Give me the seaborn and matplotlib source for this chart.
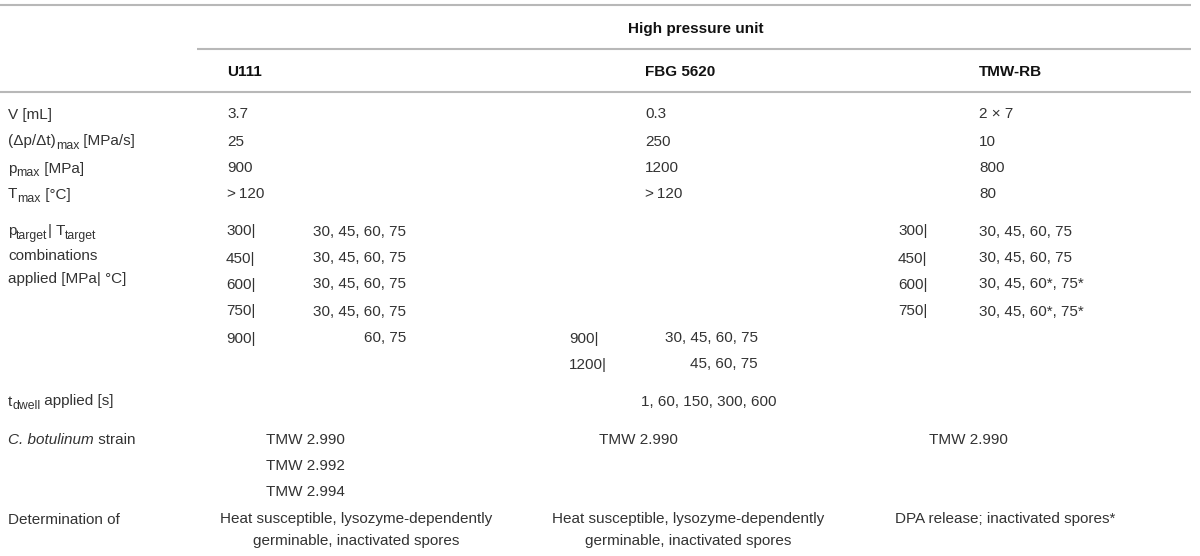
import matplotlib
matplotlib.use("Agg")
import matplotlib.pyplot as plt
import seaborn as sns

# table content
units = ["U111", "FBG 5620", "TMW-RB"]
volume = ["3.7", "0.3", "2 × 7"]
rate_max = ["25", "250", "10"]
p_max = ["900", "1200", "800"]
t_max = [">\u2009120", ">\u2009120", "80"]

u111_pressures = ["300|", "450|", "600|", "750|", "900|"]
u111_temps = ["30, 45, 60, 75", "30, 45, 60, 75", "30, 45, 60, 75", "30, 45, 60, 75", "60, 75"]
fbg_pressures = ["900|", "1200|"]
fbg_temps = ["30, 45, 60, 75", "45, 60, 75"]
tmw_pressures = ["300|", "450|", "600|", "750|"]
tmw_temps = ["30, 45, 60, 75", "30, 45, 60, 75", "30, 45, 60*, 75*", "30, 45, 60*, 75*"]

dwell_times = "1, 60, 150, 300, 600"
strains = [["TMW 2.990", "TMW 2.992", "TMW 2.994"], ["TMW 2.990"], ["TMW 2.990"]]
determination = [
    ["Heat susceptible, lysozyme-dependently", "germinable, inactivated spores"],
    ["Heat susceptible, lysozyme-dependently", "germinable, inactivated spores"],
    ["DPA release; inactivated spores*"],
]

# row labels as (text, style) runs: n = normal, s = subscript, i = italic
row_labels = [
    [("V [mL]", "n")],
    [("(Δp/Δt)", "n"), ("max", "s"), (" [MPa/s]", "n")],
    [("p", "n"), ("max", "s"), (" [MPa]", "n")],
    [("T", "n"), ("max", "s"), (" [°C]", "n")],
]
combo_label = [
    [("p", "n"), ("target", "s"), ("| T", "n"), ("target", "s")],
    [("combinations", "n")],
    [("applied [MPa| °C]", "n")],
]
dwell_label = [("t", "n"), ("dwell", "s"), (" applied [s]", "n")]
strain_label = [("C. botulinum", "i"), (" strain", "n")]

sns.set_theme(style="white")
plt.rcParams["font.family"] = ["Liberation Sans", "DejaVu Sans"]

TXT = "#333333"
HEAD = "#111111"
RULE = "#b8b8b8"
FS = 11
BASE = 5.5

fig = plt.figure(figsize=(12, 5.56), dpi=100)
ax = fig.add_axes([0, 0, 1, 1])
ax.set_xlim(0, 1200)
ax.set_ylim(556, 0)
ax.axis("off")
renderer = fig.canvas.get_renderer()

# rules
ax.plot([0, 1191], [5, 5], color=RULE, lw=1.5, solid_capstyle="butt")
ax.plot([197, 1191], [49, 49], color=RULE, lw=1.5, solid_capstyle="butt")
ax.plot([0, 1191], [92, 92], color=RULE, lw=1.5, solid_capstyle="butt")


def put(x, y, s, ha="left", color=TXT, **kw):
    ax.text(x, y + BASE, s, ha=ha, va="baseline", fontsize=FS, color=color, **kw)


def put_runs(x, y, runs):
    for s, kind in runs:
        size, yy, style = FS, y + BASE, "normal"
        if kind == "s":
            size, yy = FS * 0.8, y + BASE + 3.5
        elif kind == "i":
            style = "italic"
        t = ax.text(x, yy, s, ha="left", va="baseline", fontsize=size,
                    color=TXT, style=style)
        x += t.get_window_extent(renderer=renderer).width


put(696, 27, "High pressure unit", ha="center", fontweight="bold", color=HEAD)

col_x = [227, 645, 979]
for x, u in zip(col_x, units):
    put(x, 71, u, fontweight="bold", color=HEAD)

# simple parameter rows
LBL_X = 8
row_y = [113, 140, 167, 193]
for y, lab, vals in zip(row_y, row_labels, [volume, rate_max, p_max, t_max]):
    put_runs(LBL_X, y, lab)
    for x, v in zip(col_x, vals):
        put(x, y, v)

# pressure | temperature combinations
for y, lab in zip([230, 254, 277], combo_label):
    put_runs(LBL_X, y, lab)

combo_y = [230, 257, 283, 310, 337, 363]
for y, p, t in zip(combo_y, u111_pressures, u111_temps):
    put(226, y, p)
    put(406, y, t, ha="right")
for y, p, t in zip(combo_y[4:], fbg_pressures, fbg_temps):
    put(569, y, p)
    put(758, y, t, ha="right")
for y, p, t in zip(combo_y, tmw_pressures, tmw_temps):
    put(898, y, p)
    put(979, y, t)

# dwell time
put_runs(LBL_X, 400, dwell_label)
put(709, 400, dwell_times, ha="center")

# strains
put_runs(LBL_X, 438, strain_label)
strain_x = [305, 638, 968]
strain_y = [438, 465, 491]
for x, lst in zip(strain_x, strains):
    for y, s in zip(strain_y, lst):
        put(x, y, s, ha="center")

# determination
put(LBL_X, 518, "Determination of")
det_x = [356, 688, 895]
det_ha = ["center", "center", "left"]
for x, ha, lines in zip(det_x, det_ha, determination):
    for y, s in zip([518, 540], lines):
        put(x, y, s, ha=ha)

fig.savefig("out.png", dpi=100)
